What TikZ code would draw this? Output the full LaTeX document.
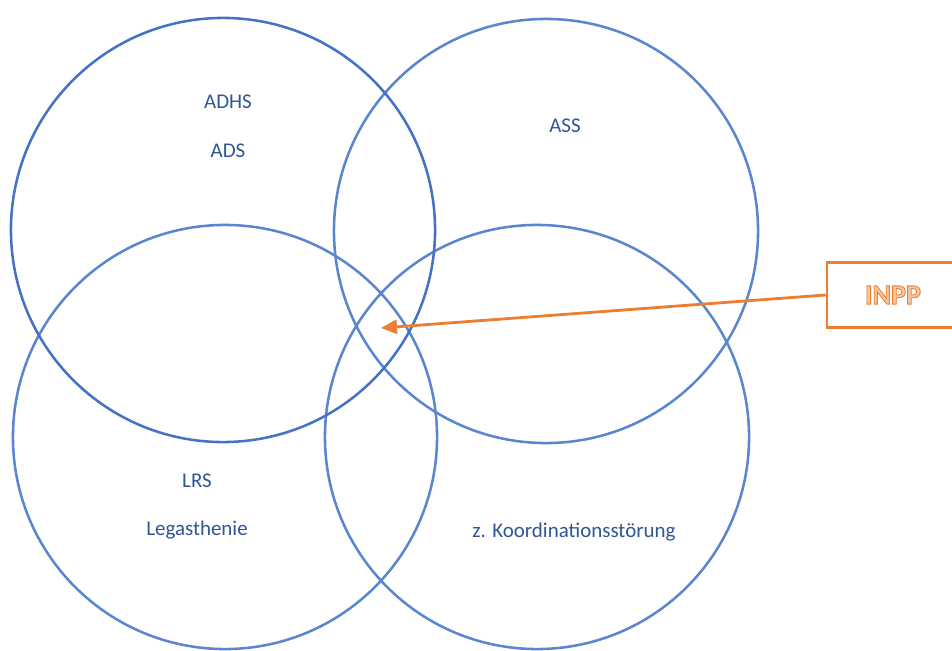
\documentclass[tikz,border=0pt]{standalone}
\usepackage{fontspec}
\setmainfont{Carlito}
\usepackage{xcolor}
\usetikzlibrary{positioning,arrows.meta}
\definecolor{venndark}{HTML}{4472C4}
\definecolor{vennlight}{HTML}{5A86CF}
\definecolor{venntext}{HTML}{2F5597}
\definecolor{inpporange}{HTML}{ED7D31}
\newcommand{\outlinetext}[1]{\special{pdf:literal direct 0.6 w 2 Tr 0.93 0.49 0.19 RG 0.97 0.78 0.63 rg}#1\special{pdf:literal direct 0 Tr}}

\begin{document}
\begin{tikzpicture}[
  x=0.025cm, y=-0.025cm,
  font=\fontsize{14.9}{17}\selectfont,
  set/.style={draw, circle, line width=1.8pt, minimum size=10.6cm, inner sep=0pt},
  label/.style={text=venntext, inner sep=0pt},
  marker/.style={draw=inpporange, line width=1.8pt, minimum width=3.3cm, minimum height=1.62cm, font=\fontsize{20}{24}\selectfont\bfseries, text=inpporange},
  arrow/.style={-{Triangle[length=4mm, width=3.5mm]}, line width=2pt, draw=inpporange}
]
\useasboundingbox (0,0) rectangle (952,650);
\clip (0,0) rectangle (952,650);

% the four sets
\node[set, draw=vennlight] (ass) at (546,231) {};
\node[set, draw=vennlight] (lrs) at (225,437) {};
\node[set, draw=vennlight] (koord) at (537,437) {};
\node[set, draw=venndark] (adhs) at (223,230) {};

% set labels
\node[label] (adhstext) at (228,102) {ADHS};
\node[label] (adstext) at (228,151) {ADS};
\node[label] (asstext) at (565,126) {ASS};
\node[label] (lrstext) at (197,481) {LRS};
\node[label] (legtext) at (197,530) {Legasthenie};
\node[label] (koordtext) at (574,532) {z. Koordinationsstörung};

% INPP pointer
\node[marker] (inpp) at (893,295) {\outlinetext{INPP}};
\coordinate (centre) at (381,328);
\draw[arrow] (inpp.west) -- (centre);
\end{tikzpicture}
\end{document}
